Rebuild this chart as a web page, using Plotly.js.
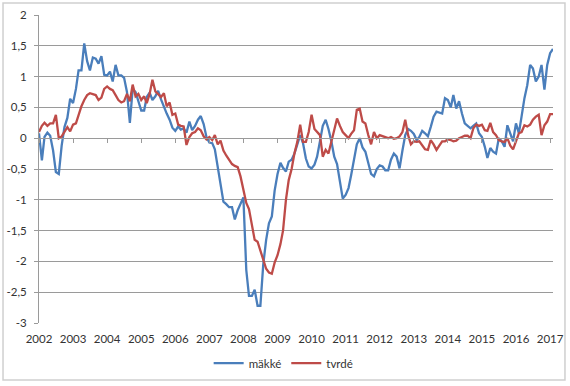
<!DOCTYPE html>
<html>
<head>
<meta charset="utf-8">
<script src="https://cdn.plot.ly/plotly-3.0.1.min.js"></script>
<style>
html,body{margin:0;padding:0;background:#fff;}
#chart{width:570px;height:386px;}
</style>
</head>
<body>
<div id="chart"></div>
<script>
// Monthly series, Jan 2002 .. Feb 2017
var startYear = 2002;
var seriesNames = ["mäkké", "tvrdé"];
var makke = [
 0.08,-0.36,0.02,0.09,0.04,-0.2,-0.55,-0.58,-0.12,0.18,0.33,0.64,
 0.57,0.8,1.1,1.1,1.54,1.25,1.1,1.31,1.29,1.21,1.33,1.03,
 1.02,1.08,0.92,1.19,1.02,1.02,0.98,0.75,0.25,0.8,0.75,0.62,
 0.45,0.45,0.67,0.74,0.62,0.68,0.77,0.63,0.5,0.4,0.3,0.17,
 0.12,0.19,0.14,0.16,0.09,0.27,0.13,0.2,0.3,0.36,0.23,0.02,
 -0.07,-0.08,-0.18,-0.45,-0.75,-1.03,-1.07,-1.12,-1.12,-1.32,-1.17,-1.05,
 -0.96,-2.14,-2.56,-2.56,-2.46,-2.72,-2.72,-2.05,-1.65,-1.38,-1.27,-0.85,
 -0.58,-0.4,-0.48,-0.54,-0.38,-0.35,-0.25,-0.1,0.05,-0.08,-0.33,-0.46,
 -0.49,-0.43,-0.3,-0.05,0.2,0.3,0.15,-0.05,-0.3,-0.42,-0.68,-0.98,
 -0.92,-0.81,-0.6,-0.35,-0.1,0,-0.15,-0.22,-0.4,-0.58,-0.62,-0.5,
 -0.44,-0.46,-0.52,-0.52,-0.35,-0.25,-0.3,-0.49,-0.2,0.05,0.15,0.12,
 0.07,-0.03,0.02,0.12,0.08,0.03,0.18,0.35,0.43,0.42,0.4,0.65,
 0.62,0.5,0.7,0.48,0.6,0.4,0.24,0.2,0.16,0.2,0.24,0.08,
 0.02,-0.14,-0.32,-0.16,-0.22,-0.25,0,-0.05,-0.14,0.21,0.08,-0.05,
 0.24,0.08,0.35,0.65,0.86,1.19,1.13,0.92,1.0,1.19,0.79,1.19,
 1.38,1.45
];
var tvrde = [
 0.1,0.2,0.25,0.2,0.24,0.24,0.38,0.0,0.03,0.1,0.18,0.11,
 0.22,0.24,0.38,0.52,0.62,0.7,0.73,0.72,0.7,0.62,0.66,0.8,
 0.84,0.8,0.78,0.7,0.62,0.58,0.6,0.72,0.6,0.87,0.68,0.72,
 0.62,0.68,0.57,0.72,0.95,0.76,0.72,0.67,0.73,0.52,0.58,0.38,
 0.4,0.22,0.2,0.19,-0.11,0.02,0.08,0.1,0.16,0.13,0.03,-0.02,
 0.02,-0.03,0.05,-0.1,-0.04,-0.2,-0.28,-0.36,-0.42,-0.45,-0.47,-0.62,
 -0.85,-1.05,-1.15,-1.4,-1.65,-1.68,-1.82,-2.0,-2.12,-2.18,-2.2,-2.02,
 -1.9,-1.72,-1.5,-1.0,-0.68,-0.5,-0.25,-0.06,0.22,-0.06,-0.06,0.1,
 0.38,0.15,0.1,0.05,-0.3,-0.19,-0.25,-0.05,0.15,0.32,0.2,0.1,
 0.05,0.0,0.07,0.13,0.46,0.48,0.27,0.24,0.05,-0.1,0.1,0.0,
 0.05,0.03,0.02,0.0,0.02,-0.01,0.0,0.03,0.1,0.3,0.05,-0.1,
 -0.05,-0.06,-0.05,-0.12,-0.18,-0.19,-0.03,-0.1,-0.19,-0.12,-0.05,-0.05,
 -0.02,-0.03,-0.05,-0.04,0.0,0.02,0.04,0.04,0.0,0.16,0.22,0.2,
 0.22,0.13,0.12,0.25,0.1,0.05,-0.03,-0.05,-0.06,0.0,-0.12,-0.18,
 -0.03,0.08,0.1,0.21,0.19,0.22,0.3,0.35,0.38,0.05,0.21,0.27,
 0.39,0.39
];
var yTickVals = [-3,-2.5,-2,-1.5,-1,-0.5,0,0.5,1,1.5,2];
var yTickText = ["-3","-2,5","-2","-1,5","-1","-0,5","0","0,5","1","1,5","2"];

// month dates
var months = [];
for (var i = 0; i < makke.length; i++) {
  var y = startYear + Math.floor(i / 12);
  var m = (i % 12) + 1;
  months.push(y + "-" + (m < 10 ? "0" + m : m) + "-01");
}
var xRange = [months[0], months[months.length - 1]];

var font = {family: "Lato, 'Open Sans', sans-serif", size: 11.5, color: "#333333"};
var gridCol = "#9a9a9a";

var traces = [
  {x: months, y: makke, name: seriesNames[0], type: "scatter", mode: "lines",
   line: {color: "#4a7ebb", width: 2.3}, xaxis: "x", yaxis: "y"},
  {x: months, y: tvrde, name: seriesNames[1], type: "scatter", mode: "lines",
   line: {color: "#be4b48", width: 2.3}, xaxis: "x2", yaxis: "y"}
];

var layout = {
  width: 570, height: 386,
  margin: {l: 39, r: 17, t: 15, b: 63, autoexpand: false},
  paper_bgcolor: "#ffffff", plot_bgcolor: "#ffffff",
  font: font,
  showlegend: true,
  legend: {orientation: "h", x: 0.476, xanchor: "center", y: -0.13, yanchor: "middle",
           font: font, bgcolor: "rgba(0,0,0,0)", itemwidth: 30, tracegroupgap: 0},
  xaxis: {type: "date", range: xRange, showgrid: false, zeroline: false, showline: false,
          ticks: "", tickformat: "%Y", dtick: "M12", tick0: months[0],
          tickfont: font, ticklabelstandoff: 7, fixedrange: true},
  xaxis2: {type: "date", range: xRange, overlaying: "x", anchor: "free", position: 0.6,
           showgrid: false, zeroline: false, showline: true, linecolor: gridCol, linewidth: 1,
           ticks: "outside", ticklen: 4, tickcolor: gridCol, tickwidth: 1,
           dtick: "M12", tick0: months[0], showticklabels: false, fixedrange: true},
  yaxis: {range: [-3, 2], tickvals: yTickVals, ticktext: yTickText,
          showgrid: true, gridcolor: gridCol, gridwidth: 1, zeroline: false,
          showline: true, linecolor: gridCol, linewidth: 1,
          ticks: "outside", ticklen: 4, tickcolor: gridCol,
          tickfont: font, ticklabelstandoff: 5, fixedrange: true},
  shapes: [
    {type: "rect", xref: "paper", yref: "paper", layer: "below",
     x0: -0.070, x1: 1.0233, y0: -0.185, y1: 1.039,
     line: {color: "#cfcfcf", width: 1.5}}
  ]
};

Plotly.newPlot("chart", traces, layout, {displayModeBar: false, staticPlot: true});
</script>
</body>
</html>
